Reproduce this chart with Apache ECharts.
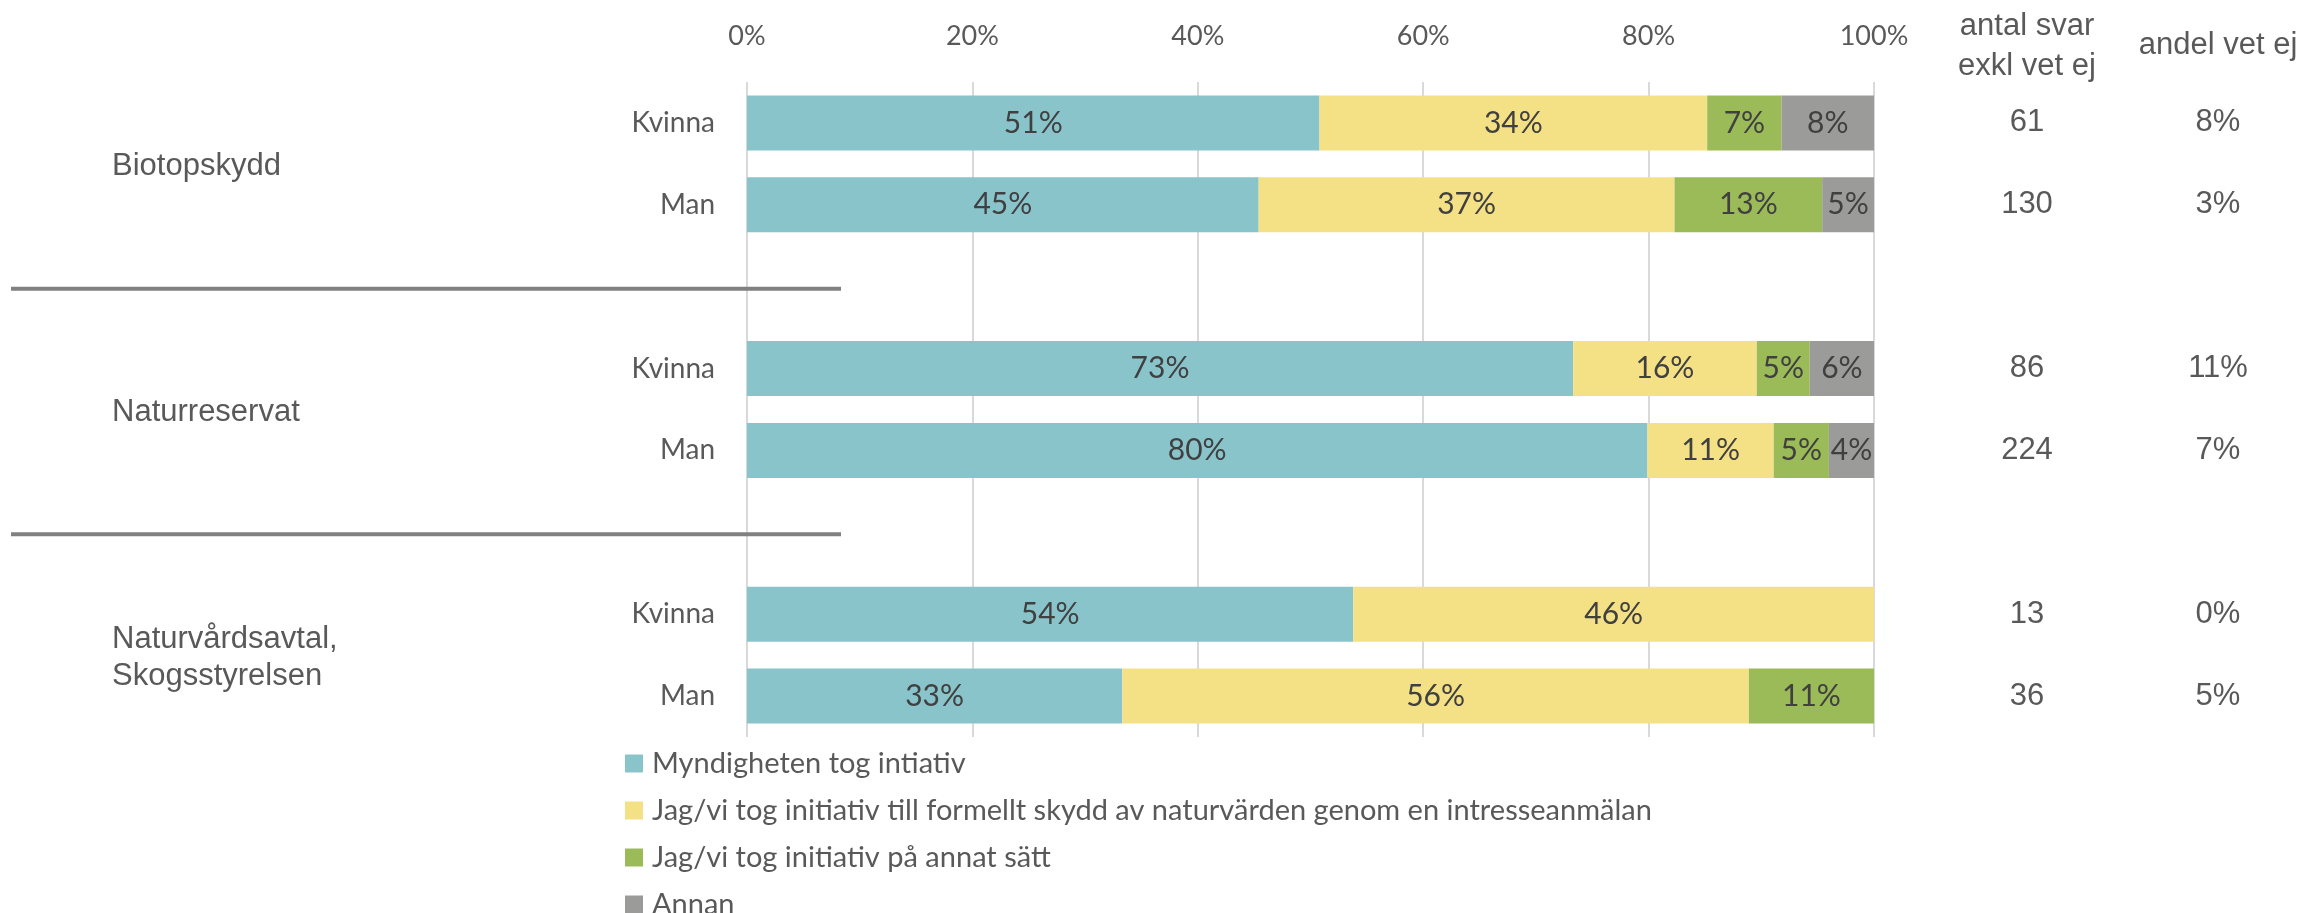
<!DOCTYPE html>
<html><head><meta charset="utf-8">
<script src="https://cdn.jsdelivr.net/npm/echarts@6/dist/echarts.min.js"></script>
<style>html,body{margin:0;padding:0;background:#fff}#c{width:2307px;height:913px}</style>
</head><body><div id="c"></div>
<script>
// ---- data ----
const rowLabels = ['Kvinna', 'Man', '', 'Kvinna', 'Man', '', 'Kvinna', 'Man'];
const groupLabels = ['Biotopskydd', 'Naturreservat', 'Naturvårdsavtal,\nSkogsstyrelsen'];
const groupRows = [[0, 1], [3, 4], [6, 7]];
const separatorRows = [2, 5];
const seriesNames = [
  'Myndigheten tog intiativ',
  'Jag/vi tog initiativ till formellt skydd av naturvärden genom en intresseanmälan',
  'Jag/vi tog initiativ på annat sätt',
  'Annan'
];
const myndigheten      = [50.8, 45.4, null, 73.3, 79.9, null, 53.8, 33.3];
const intresseanmalan  = [34.4, 36.9, null, 16.3, 11.2, null, 46.2, 55.6];
const annatSatt        = [6.6, 13.1, null, 4.7, 4.9, null, 0, 11.1];
const annan            = [8.2, 4.6, null, 5.8, 4.0, null, 0, 0];
const antalSvar  = ['61', '130', '', '86', '224', '', '13', '36'];
const andelVetEj = ['8%', '3%', '', '11%', '7%', '', '0%', '5%'];
const colHeaders = ['antal svar\nexkl vet ej', 'andel vet ej'];
const xMin = 0, xMax = 100, xInterval = 20;

// ---- chart ----
const colors = ['#8AC4CB', '#F5E185', '#9BBB59', '#9B9B9A'];
const seriesData = [myndigheten, intresseanmalan, annatSatt, annan];
const calFont = 'Lato';
const arialFont = 'Liberation Sans';
const textGrey = '#595959';

const chart = echarts.init(document.getElementById('c'), null, {renderer: 'canvas'});

const option = {
  animation: false,
  backgroundColor: '#ffffff',
  color: colors,
  grid: {left: 747, right: 433, top: 82, bottom: 176, containLabel: false},
  legend: {
    orient: 'vertical',
    left: 625, top: 749, height: 170, padding: 0,
    itemWidth: 18, itemHeight: 18, itemGap: 18,
    icon: 'rect',
    data: seriesNames,
    textStyle: {fontFamily: calFont, fontSize: 29, lineHeight: 28, color: textGrey, padding: [0, 0, 0, 4]}
  },
  xAxis: {
    type: 'value', position: 'top',
    min: xMin, max: xMax, interval: xInterval,
    axisLine: {show: false}, axisTick: {show: false},
    splitLine: {show: true, lineStyle: {color: '#D9D9D9', width: 2}},
    axisLabel: {formatter: '{value}%', fontFamily: calFont, fontSize: 27, color: textGrey, margin: 32}
  },
  yAxis: [{
    type: 'category', inverse: true, data: rowLabels,
    axisLine: {show: false}, axisTick: {show: false},
    axisLabel: {interval: 0, fontFamily: calFont, fontSize: 28, color: textGrey, margin: 32}
  }, {
    type: 'category', inverse: true, data: rowLabels, position: 'right',
    axisLine: {show: false}, axisTick: {show: false},
    axisLabel: {
      interval: 0, align: 'left', margin: 53,
      formatter: (v, i) => '{a|' + antalSvar[i] + '}{b|' + andelVetEj[i] + '}',
      rich: {
        a: {width: 200, align: 'center', fontFamily: arialFont, fontSize: 31, color: textGrey},
        b: {width: 182, align: 'center', fontFamily: arialFont, fontSize: 31, color: textGrey}
      }
    }
  }],
  series: seriesNames.map((name, k) => ({
    name: name, type: 'bar', stack: 'total', yAxisIndex: 0,
    barWidth: 55,
    data: seriesData[k],
    itemStyle: {color: colors[k]},
    label: {
      show: true, position: 'inside',
      fontFamily: calFont, fontSize: 30, color: '#404040',
      formatter: p => (p.value ? Math.round(p.value) + '%' : '')
    }
  }))
};
chart.setOption(option);

// ---- annotations positioned through the axis scale ----
const yPix = i => chart.convertToPixel({yAxisIndex: 0}, i);
const graphics = [];
groupRows.forEach((rows, g) => {
  const y = (yPix(rows[0]) + yPix(rows[1])) / 2 + 3;
  graphics.push({
    type: 'text', x: 112, y: y,
    style: {text: groupLabels[g], fontFamily: arialFont, fontSize: 31, lineHeight: 37,
            fill: textGrey, verticalAlign: 'middle', align: 'left'}
  });
});
separatorRows.forEach(r => {
  const y = yPix(r) + 2;
  graphics.push({
    type: 'line', shape: {x1: 11, y1: y, x2: 841, y2: y},
    style: {stroke: '#808080', lineWidth: 4}
  });
});
graphics.push({
  type: 'text', x: 2027, y: 46,
  style: {text: colHeaders[0], fontFamily: arialFont, fontSize: 31, lineHeight: 40,
          fill: textGrey, align: 'center', verticalAlign: 'middle'}
});
graphics.push({
  type: 'text', x: 2218, y: 45,
  style: {text: colHeaders[1], fontFamily: arialFont, fontSize: 31, lineHeight: 40,
          fill: textGrey, align: 'center', verticalAlign: 'middle'}
});
chart.setOption({graphic: graphics});
</script>
</body></html>
